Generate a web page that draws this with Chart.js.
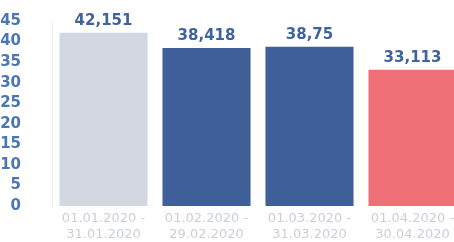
<!DOCTYPE html>
<html>
<head>
<meta charset="utf-8">
<script src="https://cdn.jsdelivr.net/npm/chart.js@4"></script>
<style>
  html, body { margin: 0; padding: 0; background: #fff; overflow: hidden; }
  #wrap { position: relative; width: 454px; height: 242px; overflow: hidden; }
  canvas { position: absolute; left: 0; top: 0; }
</style>
</head>
<body>
<div id="wrap"><canvas id="chart" width="464" height="242"></canvas></div>
<script>
// Chart data
const periods = [
    ['01.01.2020 -', '31.01.2020'],
    ['01.02.2020 -', '29.02.2020'],
    ['01.03.2020 -', '31.03.2020'],
    ['01.04.2020 -', '30.04.2020']
];
const values = [42.151, 38.418, 38.75, 33.113];
const valueLabels = ['42,151', '38,418', '38,75', '33,113'];
const yTicks = [0, 5, 10, 15, 20, 25, 30, 35, 40, 45];

const barColors = ['#d3d7e2', '#3e5f98', '#3e5f98', '#f07078'];

// Draws the value above each bar
const valueLabelPlugin = {
    id: 'valueLabels',
    afterDatasetsDraw(chart) {
        const ctx = chart.ctx;
        const meta = chart.getDatasetMeta(0);
        ctx.save();
        ctx.font = 'bold 15px "DejaVu Sans"';
        ctx.fillStyle = '#3f639d';
        ctx.textAlign = 'center';
        ctx.textBaseline = 'bottom';
        meta.data.forEach((bar, i) => {
            ctx.fillText(valueLabels[i], bar.x, bar.y - 4);
        });
        ctx.restore();
    }
};

const ctx = document.getElementById('chart').getContext('2d');
new Chart(ctx, {
    type: 'bar',
    data: {
        labels: periods,
        datasets: [{
            data: values,
            backgroundColor: barColors,
            borderWidth: 0,
            barPercentage: 0.855,
            categoryPercentage: 1
        }]
    },
    options: {
        responsive: false,
        animation: false,
        layout: { padding: 0 },
        plugins: {
            legend: { display: false },
            tooltip: { enabled: false }
        },
        scales: {
            x: {
                grid: { display: false },
                border: { display: false },
                afterFit(scale) { scale.height = 36; },
                ticks: {
                    color: '#cbcfd8',
                    font: { family: 'DejaVu Sans', size: 13 },
                    padding: -3,
                    maxRotation: 0
                }
            },
            y: {
                min: 0,
                max: 45,
                afterBuildTicks(scale) {
                    scale.ticks = yTicks.map(v => ({ value: v }));
                },
                afterFit(scale) {
                    scale.width = 52;
                    // tick padding would otherwise push the plot down
                    scale.paddingTop = 21;
                    scale.paddingBottom = 0;
                },
                grid: { display: false },
                border: { display: true, color: '#eceef3', width: 1 },
                ticks: {
                    autoSkip: false,
                    color: '#4a76b5',
                    font: { family: 'DejaVu Sans', size: 15, weight: 'bold' },
                    padding: 23
                }
            }
        }
    },
    plugins: [valueLabelPlugin]
});
</script>
</body>
</html>
